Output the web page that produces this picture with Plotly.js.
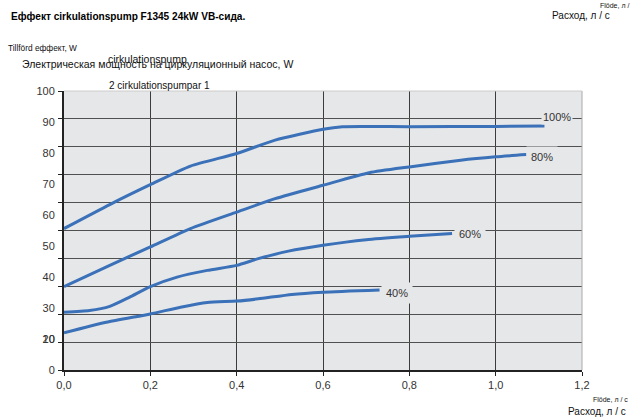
<!DOCTYPE html>
<html>
<head>
<meta charset="utf-8">
<script src="https://cdn.plot.ly/plotly-3.0.1.min.js"></script>
<style>html,body{margin:0;padding:0;background:#fff;}#chart{width:631px;height:418px;}</style>
</head>
<body>
<div id="chart"></div>
<script>
// ---- data ----
const flow100 = [0.0, 0.106, 0.201, 0.293, 0.40, 0.489, 0.60, 0.645, 0.80, 1.00, 1.113];
const power100 = [50.7, 59.3, 66.5, 73.1, 77.6, 82.4, 86.3, 87.2, 87.2, 87.3, 87.5];

const flow80 = [0.0, 0.106, 0.20, 0.293, 0.40, 0.489, 0.60, 0.707, 0.80, 0.919, 1.00, 1.071];
const power80 = [29.9, 37.5, 44.1, 50.7, 56.6, 61.4, 66.2, 70.7, 72.8, 75.2, 76.4, 77.2];

const flow60 = [0.0, 0.059, 0.106, 0.152, 0.20, 0.262, 0.332, 0.40, 0.45, 0.52, 0.60, 0.70, 0.80, 0.899];
const power60 = [20.7, 21.3, 22.8, 26.1, 29.9, 33.3, 35.7, 37.5, 39.9, 42.6, 44.7, 46.7, 47.9, 48.9];

const flow40 = [0.0, 0.098, 0.20, 0.27, 0.332, 0.40, 0.45, 0.528, 0.60, 0.731];
const power40 = [13.3, 17.1, 20.1, 22.5, 24.2, 24.7, 25.5, 27.1, 27.9, 28.7];

const curveNames = ["100%", "80%", "60%", "40%"];
const curveLabelX = [1.142, 1.107, 0.94, 0.772];
const curveLabelY = [90.8, 76.4, 48.6, 27.7];

const xTickVals = [0, 0.2, 0.4, 0.6, 0.8, 1.0, 1.2];
const xTickText = ["0,0", "0,2", "0,4", "0,6", "0,8", "1,0", "1,2"];
const yGridVals = [0, 10, 20, 30, 40, 50, 60, 70, 80, 90, 100];
const yLabelText = ["0", "20", "30", "40", "50", "60", "70", "80", "90", "100"];
const yExtraLabel = ["10"];

const titleText = "Еффект cirkulationspump F1345 24kW VB-сида.";
const yTitleSmall = "Tillförd еффект, W";
const yTitleMain = "Электрическая мощность на циркуляционный насос, W";
const overlapText = "cirkulationspump";
const subText = "2 cirkulationspumpar 1";
const flowSmall = "Flöde, л / с";
const flowSmallTop = "Flöde, л /";
const flowMain = "Расход, л / с";

// ---- layout helpers ----
const W = 631, H = 418;
const L = 64, R = 582, T = 91, B = 370;
const px = x => (x - L) / (R - L);
const py = y => (B - y) / (B - T);

const lineColor = "#3a71b8";
const plotBg = "#e6e7e9";
const FONT = "Liberation Sans, Arial, sans-serif";

const series = [[flow100, power100], [flow80, power80], [flow60, power60], [flow40, power40]];
const traces = series.map((s, i) => ({
  x: s[0], y: s[1], type: "scatter", mode: "lines",
  line: {color: lineColor, width: 3, shape: "spline", smoothing: 0.6},
  hoverinfo: "skip", name: curveNames[i]
}));
// invisible helpers so the label-only overlay axes are drawn
traces.push({x: [0], y: [0], yaxis: "y2", mode: "markers", marker: {opacity: 0}, hoverinfo: "skip", type: "scatter"});
traces.push({x: [0], y: [0], yaxis: "y3", mode: "markers", marker: {opacity: 0}, hoverinfo: "skip", type: "scatter"});

// positions for y labels evenly spaced (as in the original drawing)
const yLabelVals = yLabelText.map((t, k) => k * 100 / 9);

const annotations = [];
curveNames.forEach((n, i) => {
  annotations.push({
    x: curveLabelX[i], y: curveLabelY[i], xref: "x", yref: "y",
    text: n, showarrow: false, font: {family: FONT, size: 11, color: "#333"},
    bgcolor: plotBg, borderpad: i === 0 ? 1 : 4
  });
});
function txt(text, x, y, size, opts) {
  annotations.push(Object.assign({
    text: text, xref: "paper", yref: "paper", x: px(x), y: py(y),
    xanchor: "left", yanchor: "middle", showarrow: false,
    font: {family: FONT, size: size, color: "#111"}
  }, opts || {}));
}
txt("<b>" + titleText + "</b>", 9, 17, 10.1, {font: {family: FONT, size: 10.1, color: "#000"}});
txt(yTitleSmall, 6, 48, 8.3);
txt(overlapText, 106, 59, 10.5);
txt(yTitleMain, 20, 64, 10.5);
txt(subText, 107, 85, 10);
txt(flowSmallTop, 631, 6, 7, {xanchor: "right"});
txt(flowMain, 612, 15, 10, {xanchor: "right"});
txt(flowSmall, 630, 399, 7, {xanchor: "right"});
txt(flowMain, 628, 411, 10, {xanchor: "right"});

const yLabelAxis = (vals, text) => ({
  range: [0, 100], tickvals: vals, ticktext: text, overlaying: "y", side: "left",
  showgrid: false, zeroline: false, showline: false,
  ticks: "outside", ticklen: 6, tickcolor: "rgba(0,0,0,0)", fixedrange: true,
  tickfont: {family: FONT, size: 11, color: "#333"}
});

const layout = {
  width: W, height: H,
  margin: {l: L, r: W - R, t: T, b: H - B, pad: 0},
  paper_bgcolor: "#fff", plot_bgcolor: plotBg,
  showlegend: false,
  font: {family: FONT, size: 11, color: "#333"},
  xaxis: {
    range: [0, 1.2], tickvals: xTickVals, ticktext: xTickText,
    showgrid: true, gridcolor: "#3c3c3c", gridwidth: 1,
    showline: true, linecolor: "#222", linewidth: 2,
    ticks: "outside", ticklen: 4, tickcolor: "#222",
    zeroline: false, mirror: false, fixedrange: true,
    tickfont: {family: FONT, size: 11, color: "#333"}
  },
  yaxis: {
    range: [0, 100], tickvals: yGridVals, showticklabels: false,
    showgrid: true, gridcolor: "#505050", gridwidth: 1,
    ticks: "outside", ticklen: 4, tickcolor: "#222",
    zeroline: false, showline: true, linecolor: "#222", linewidth: 2, fixedrange: true
  },
  yaxis2: yLabelAxis(yLabelVals, yLabelText),
  yaxis3: yLabelAxis([100 / 9], yExtraLabel),
  shapes: [
    {type: "line", xref: "paper", yref: "paper", x0: 1, x1: 1, y0: 0, y1: 1, line: {color: "#aaa", width: 1}},
    {type: "line", xref: "paper", yref: "paper", x0: 0, x1: 1, y0: 1, y1: 1, line: {color: "#ccc", width: 1}}
  ],
  annotations: annotations
};

Plotly.newPlot("chart", traces, layout, {staticPlot: true, displayModeBar: false});
</script>
</body>
</html>
